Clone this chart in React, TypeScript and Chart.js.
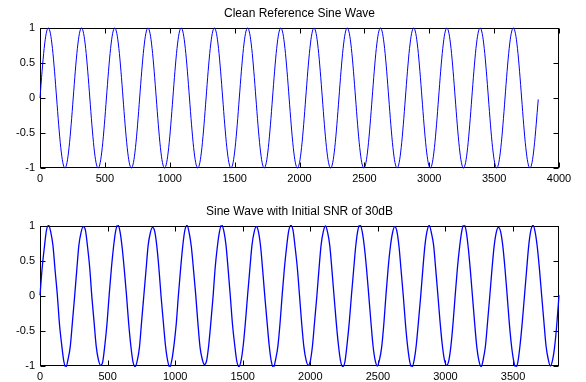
import React, { useEffect, useRef } from "react";
import { Chart, registerables } from "chart.js";

Chart.register(...registerables);

// Sample spacing (in samples) between stored values
const SAMPLE_STEP = 16;

const TITLE_TOP = "Clean Reference Sine Wave";
const TITLE_BOTTOM = "Sine Wave with Initial SNR of 30dB";

const X_MAX_TOP = 4000;
const X_MAX_BOTTOM = 3840;
const X_TICKS_TOP = [0, 500, 1000, 1500, 2000, 2500, 3000, 3500, 4000];
const X_TICKS_BOTTOM = [0, 500, 1000, 1500, 2000, 2500, 3000, 3500];
const Y_TICKS = [-1, -0.5, 0, 0.5, 1];

const CLEAN = [
  0, 0.383, 0.707, 0.924, 1, 0.924, 0.707, 0.383, 0, -0.383, -0.707, -0.924, -1, -0.924, -0.707, -0.383,
  0, 0.383, 0.707, 0.924, 1, 0.924, 0.707, 0.383, 0, -0.383, -0.707, -0.924, -1, -0.924, -0.707, -0.383,
  0, 0.383, 0.707, 0.924, 1, 0.924, 0.707, 0.383, 0, -0.383, -0.707, -0.924, -1, -0.924, -0.707, -0.383,
  0, 0.383, 0.707, 0.924, 1, 0.924, 0.707, 0.383, 0, -0.383, -0.707, -0.924, -1, -0.924, -0.707, -0.383,
  0, 0.383, 0.707, 0.924, 1, 0.924, 0.707, 0.383, 0, -0.383, -0.707, -0.924, -1, -0.924, -0.707, -0.383,
  0, 0.383, 0.707, 0.924, 1, 0.924, 0.707, 0.383, 0, -0.383, -0.707, -0.924, -1, -0.924, -0.707, -0.383,
  0, 0.383, 0.707, 0.924, 1, 0.924, 0.707, 0.383, 0, -0.383, -0.707, -0.924, -1, -0.924, -0.707, -0.383,
  0, 0.383, 0.707, 0.924, 1, 0.924, 0.707, 0.383, 0, -0.383, -0.707, -0.924, -1, -0.924, -0.707, -0.383,
  0, 0.383, 0.707, 0.924, 1, 0.924, 0.707, 0.383, 0, -0.383, -0.707, -0.924, -1, -0.924, -0.707, -0.383,
  0, 0.383, 0.707, 0.924, 1, 0.924, 0.707, 0.383, 0, -0.383, -0.707, -0.924, -1, -0.924, -0.707, -0.383,
  0, 0.383, 0.707, 0.924, 1, 0.924, 0.707, 0.383, 0, -0.383, -0.707, -0.924, -1, -0.924, -0.707, -0.383,
  0, 0.383, 0.707, 0.924, 1, 0.924, 0.707, 0.383, 0, -0.383, -0.707, -0.924, -1, -0.924, -0.707, -0.383,
  0, 0.383, 0.707, 0.924, 1, 0.924, 0.707, 0.383, 0, -0.383, -0.707, -0.924, -1, -0.924, -0.707, -0.383,
  0, 0.383, 0.707, 0.924, 1, 0.924, 0.707, 0.383, 0, -0.383, -0.707, -0.924, -1, -0.924, -0.707, -0.383,
  0, 0.383, 0.707, 0.924, 1, 0.924, 0.707, 0.383, 0, -0.383, -0.707, -0.924, -1, -0.924, -0.707, -0.383,
  -0.02,
];

const NOISY = [
  0.01, 0.40, 0.69, 0.94, 1.01, 0.91, 0.72, 0.36, 0.02, -0.40, -0.69, -0.93, -1.02, -0.90, -0.72, -0.37,
  -0.01, 0.37, 0.73, 0.91, 0.99, 0.94, 0.70, 0.40, -0.02, -0.37, -0.72, -0.91, -0.99, -0.94, -0.70, -0.39,
  0.02, 0.39, 0.70, 0.93, 1.02, 0.92, 0.69, 0.37, 0.01, -0.39, -0.71, -0.94, -1.01, -0.92, -0.73, -0.36,
  0.00, 0.36, 0.72, 0.90, 0.98, 0.93, 0.72, 0.39, -0.01, -0.36, -0.70, -0.92, -1.02, -0.91, -0.69, -0.40,
  0.01, 0.38, 0.71, 0.94, 1.01, 0.90, 0.70, 0.37, 0.02, -0.38, -0.73, -0.90, -0.98, -0.93, -0.71, -0.38,
  -0.02, 0.40, 0.70, 0.92, 1.02, 0.93, 0.73, 0.38, 0.00, -0.40, -0.69, -0.93, -1.01, -0.92, -0.70, -0.37,
  0.01, 0.37, 0.72, 0.91, 0.99, 0.92, 0.71, 0.36, -0.02, -0.37, -0.71, -0.94, -1.02, -0.90, -0.72, -0.39,
  0.02, 0.39, 0.69, 0.93, 1.01, 0.94, 0.69, 0.40, 0.01, -0.39, -0.72, -0.91, -0.99, -0.93, -0.71, -0.36,
  -0.01, 0.38, 0.73, 0.92, 1.00, 0.91, 0.72, 0.37, -0.01, -0.38, -0.70, -0.93, -1.01, -0.94, -0.69, -0.38,
  0.00, 0.36, 0.71, 0.94, 1.02, 0.92, 0.70, 0.39, 0.02, -0.36, -0.71, -0.92, -1.00, -0.91, -0.73, -0.40,
  0.02, 0.40, 0.70, 0.90, 0.99, 0.93, 0.71, 0.36, 0.00, -0.40, -0.72, -0.94, -1.02, -0.92, -0.70, -0.37,
  -0.02, 0.37, 0.72, 0.93, 1.01, 0.90, 0.73, 0.38, 0.01, -0.37, -0.69, -0.91, -0.99, -0.93, -0.72, -0.39,
  0.01, 0.39, 0.69, 0.92, 1.02, 0.94, 0.70, 0.37, -0.01, -0.39, -0.73, -0.93, -1.01, -0.90, -0.71, -0.36,
  0.00, 0.38, 0.71, 0.91, 0.98, 0.92, 0.72, 0.40, 0.02, -0.38, -0.70, -0.92, -1.02, -0.94, -0.70, -0.38,
  -0.01, 0.36, 0.72, 0.94, 1.01, 0.91, 0.69, 0.37, 0.00, -0.36, -0.71, -0.90, -1.00, -0.92, -0.72, -0.40,
  0.01,
];

const FONT = '"Liberation Sans", Arial, Helvetica, sans-serif';
const LINE_COLOR = "#0000ff";

const matlabAxes = {
  id: "matlabAxes",
  beforeDatasetsDraw(chart: any) {
    const { ctx, chartArea: a, scales } = chart;
    const L = 5;
    const left = Math.round(a.left) + 0.5;
    const right = Math.round(a.right) - 0.5;
    const top = Math.round(a.top) + 0.5;
    const bottom = Math.round(a.bottom) - 0.5;
    ctx.save();
    ctx.strokeStyle = "#000";
    ctx.lineWidth = 1;
    ctx.beginPath();
    scales.x.ticks.forEach((t: any) => {
      const px = Math.round(scales.x.getPixelForValue(t.value)) + 0.5;
      ctx.moveTo(px, bottom);
      ctx.lineTo(px, bottom - L);
      ctx.moveTo(px, top);
      ctx.lineTo(px, top + L);
    });
    scales.y.ticks.forEach((t: any) => {
      const py = Math.round(scales.y.getPixelForValue(t.value)) + 0.5;
      ctx.moveTo(left, py);
      ctx.lineTo(left + L, py);
      ctx.moveTo(right, py);
      ctx.lineTo(right - L, py);
    });
    ctx.stroke();
    ctx.strokeRect(left, top, right - left, bottom - top);
    ctx.restore();
  },
  afterDraw(chart: any, _args: any, opts: any) {
    const { ctx, chartArea: a } = chart;
    ctx.save();
    ctx.fillStyle = "#000";
    ctx.font = `12px ${FONT}`;
    ctx.textAlign = "center";
    ctx.textBaseline = "middle";
    ctx.fillText(opts.title || "", (a.left + a.right) / 2, a.top - 14);
    ctx.restore();
  },
};

function buildConfig(
  values: number[],
  title: string,
  xMax: number,
  xTicks: number[],
  padTop: number,
  xHeight: number,
  lineWidth: number
): any {
  const tickFont = { family: FONT, size: 11 };
  return {
    type: "line",
    data: {
      datasets: [
        {
          data: values.map((v, i) => ({ x: i * SAMPLE_STEP, y: v })),
          borderColor: LINE_COLOR,
          borderWidth: lineWidth,
          pointRadius: 0,
          fill: false,
          cubicInterpolationMode: "monotone",
          clip: 1,
        },
      ],
    },
    options: {
      animation: false,
      responsive: false,
      events: [],
      layout: { padding: { top: padTop, right: 27, left: 0, bottom: 0 } },
      plugins: {
        legend: { display: false },
        tooltip: { enabled: false },
        title: { display: false },
        matlabAxes: { title },
      },
      scales: {
        x: {
          type: "linear",
          min: 0,
          max: xMax,
          grid: { display: false, drawTicks: false },
          border: { display: false },
          afterBuildTicks: (s: any) => {
            s.ticks = xTicks.map((v) => ({ value: v }));
          },
          afterFit: (s: any) => {
            s.height = xHeight;
          },
          ticks: {
            padding: 4,
            maxRotation: 0,
            autoSkip: false,
            color: "#000",
            font: tickFont,
            callback: (v: any) => String(v),
          },
        },
        y: {
          type: "linear",
          min: -1,
          max: 1,
          grid: { display: false, drawTicks: false },
          border: { display: false },
          afterBuildTicks: (s: any) => {
            s.ticks = Y_TICKS.map((v) => ({ value: v }));
          },
          afterFit: (s: any) => {
            s.width = 40;
          },
          ticks: {
            padding: 5,
            autoSkip: false,
            color: "#000",
            font: tickFont,
            callback: (v: any) => String(v),
          },
        },
      },
    },
    plugins: [matlabAxes],
  };
}

export default function App() {
  const topRef = useRef<HTMLCanvasElement>(null);
  const botRef = useRef<HTMLCanvasElement>(null);

  useEffect(() => {
    const c1 = new Chart(
      topRef.current as HTMLCanvasElement,
      buildConfig(CLEAN, TITLE_TOP, X_MAX_TOP, X_TICKS_TOP, 28, 23, 1)
    );
    const c2 = new Chart(
      botRef.current as HTMLCanvasElement,
      buildConfig(NOISY, TITLE_BOTTOM, X_MAX_BOTTOM, X_TICKS_BOTTOM, 35, 16, 1.3)
    );
    return () => {
      c1.destroy();
      c2.destroy();
    };
  }, []);

  return (
    <div
      style={{
        position: "fixed",
        left: 0,
        top: 0,
        width: 586,
        height: 382,
        background: "#fff",
        overflow: "hidden",
      }}
    >
      <canvas
        ref={topRef}
        width={586}
        height={191}
        style={{ position: "absolute", left: 0, top: 0, display: "block" }}
      />
      <canvas
        ref={botRef}
        width={586}
        height={191}
        style={{ position: "absolute", left: 0, top: 191, display: "block" }}
      />
    </div>
  );
}
